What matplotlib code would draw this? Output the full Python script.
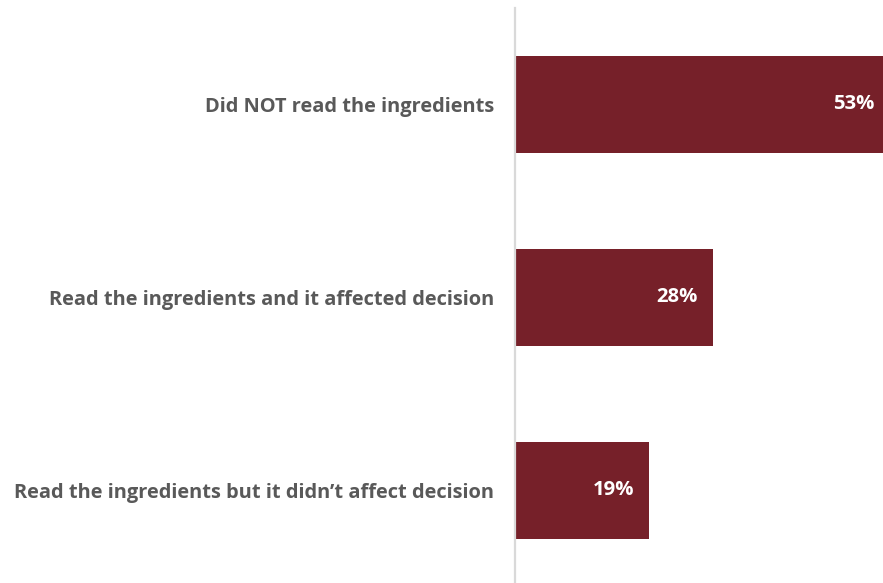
import matplotlib
matplotlib.use("Agg")
import matplotlib.pyplot as plt

categories = [
    "Did NOT read the ingredients",
    "Read the ingredients and it affected decision",
    "Read the ingredients but it didn\u2019t affect decision",
]
values = [53, 28, 19]

bar_color = "#762029"
text_color = "#595959"

plt.rcParams["font.family"] = ["Open Sans", "DejaVu Sans"]

fig = plt.figure(figsize=(8.83, 5.83), dpi=100)
ax = fig.add_axes([515 / 883, 0, 368 / 883, 575 / 583])

pos = list(range(len(values)))
ax.barh(pos, values, height=0.5, color=bar_color, zorder=2)
ax.set_ylim(2.48, -0.5)
ax.set_xlim(0, 52.0)

# value labels sit inside the right end of each bar
for p, v in zip(pos, values):
    ax.annotate(f"{v}%", xy=(v, p), xytext=(-11, 0), textcoords="offset points",
                ha="right", va="center", color="white", fontsize=14.6, fontweight="bold",
                annotation_clip=False)

ax.set_yticks(pos)
ax.set_yticklabels(categories, fontsize=14.4, fontweight="bold", color=text_color)
ax.tick_params(axis="y", length=0, pad=15)
ax.set_xticks([])

for side in ["top", "right", "bottom"]:
    ax.spines[side].set_visible(False)
ax.spines["left"].set_color("#d9d9d9")
ax.spines["left"].set_linewidth(1.6)

fig.savefig("out.png", dpi=100)
